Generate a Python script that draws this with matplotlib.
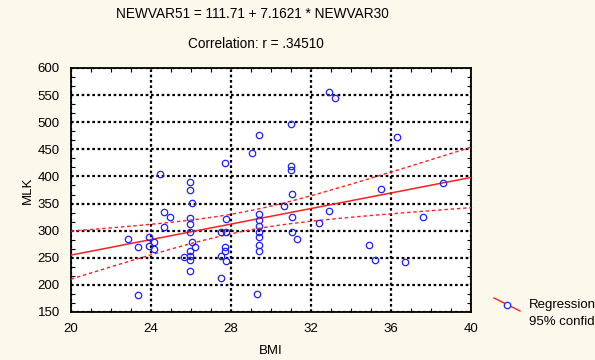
import numpy as np
import matplotlib
matplotlib.use("Agg")
import matplotlib.pyplot as plt
from matplotlib.lines import Line2D
from matplotlib.ticker import MultipleLocator

plt.rcParams['font.family'] = ['Liberation Sans', 'DejaVu Sans']

# Data
bmi = [22.85, 23.36, 23.36, 23.88, 23.88, 24.16, 24.16, 24.47, 24.65, 24.97,
       24.65, 25.97, 25.97, 26.04, 25.97, 25.97, 25.97, 26.04, 26.20, 25.97,
       25.97, 25.67, 25.97, 25.97, 27.68, 27.76, 27.48, 27.76, 27.68, 27.68,
       27.48, 27.76, 27.48, 29.07, 29.39, 29.39, 29.39, 29.39, 29.39, 29.39,
       29.39, 29.39, 29.30, 30.98, 30.98, 30.98, 31.06, 30.66, 31.06, 31.06,
       31.29, 32.38, 32.88, 32.88, 33.19, 34.88, 35.18, 35.48, 36.28, 36.71,
       37.59, 38.59]
mlk = [285, 270, 182, 288, 272, 280, 266, 405, 335, 326,
       307, 389, 375, 351, 324, 312, 297, 279, 269, 263,
       253, 251, 245, 226, 424, 322, 298, 298, 270, 262,
       253, 244, 213, 444, 476, 330, 319, 308, 298, 289,
       273, 262, 183, 496, 419, 411, 367, 346, 326, 298,
       285, 315, 336, 555, 545, 273, 245, 376, 473, 242,
       325, 387]
intercept = 111.71
slope = 7.1621
title_lines = ["NEWVAR51 = 111.71 + 7.1621 * NEWVAR30", "Correlation: r = .34510"]
legend_labels = ["Regression", "95% confid."]

x = np.array(bmi, dtype=float)
y = np.array(mlk, dtype=float)
n = len(x)

bg = '#FDF8EC'
fig = plt.figure(figsize=(5.95, 3.6), dpi=100, facecolor=bg)
ax = fig.add_axes([71/595, 48/360, 400/595, 244/360])
ax.set_facecolor('white')

ax.set_xlim(20, 40)
ax.set_ylim(150, 600)

# grid
ax.xaxis.set_major_locator(MultipleLocator(4))
ax.xaxis.set_minor_locator(MultipleLocator(1))
ax.yaxis.set_major_locator(MultipleLocator(50))
ax.yaxis.set_minor_locator(MultipleLocator(50/3))
ax.grid(True, which='major', color='black', linestyle=(0, (1.2, 1.2)), linewidth=1.6)
ax.set_axisbelow(True)

# regression line and confidence bands
xs = np.linspace(20, 40, 200)
yhat = intercept + slope * xs
resid = y - (intercept + slope * x)
s = np.sqrt(np.sum(resid**2) / (n - 2))
xm = x.mean()
sxx = np.sum((x - xm)**2)
tval = 1.85
half = tval * s * np.sqrt(1.0/n + (xs - xm)**2 / sxx)
ax.plot(xs, yhat, color='#FF2020', lw=1.1, zorder=3)
ax.plot(xs, yhat + half, color='#FF2020', lw=1.0, ls=(0, (2.5, 2)), zorder=3)
ax.plot(xs, yhat - half, color='#FF2020', lw=1.0, ls=(0, (2.5, 2)), zorder=3)

ax.plot(x, y, linestyle='none', marker='o', ms=4.6, mfc='none', mec='#2020FF', mew=0.9, zorder=4)

for sp in ax.spines.values():
    sp.set_linewidth(1.3)
    sp.set_color('black')

ax.tick_params(which='both', direction='in', top=True, right=True, labelsize=9.5, colors='black')
ax.tick_params(which='major', length=0)
ax.tick_params(axis='x', which='major', pad=8)
ax.tick_params(axis='y', which='major', pad=8)
ax.tick_params(which='minor', length=3, width=0.8)

ax.set_xlabel('BMI', fontsize=9.5, labelpad=7)
ax.set_ylabel('MLK', fontsize=9.5, labelpad=3)

fig.text(252/595, 1 - 14/360, title_lines[0], ha='center', va='center', fontsize=9.8)
fig.text(256/595, 1 - 44/360, title_lines[1], ha='center', va='center', fontsize=9.8)

# legend (manual, outside right)
fig.add_artist(Line2D([494/595, 520/595], [1 - 298/360, 1 - 311/360], color='#FF2020', lw=1.0,
                      transform=fig.transFigure))
fig.add_artist(Line2D([507/595], [1 - 304.5/360], marker='o', ms=4.6, mfc='white', mec='#2020FF', mew=0.9,
                      transform=fig.transFigure))
fig.text(529/595, 1 - 305/360, legend_labels[0], ha='left', va='center', fontsize=9.5)
fig.text(529/595, 1 - 322/360, legend_labels[1], ha='left', va='center', fontsize=9.5)

fig.savefig('out.png', dpi=100, facecolor=bg)
